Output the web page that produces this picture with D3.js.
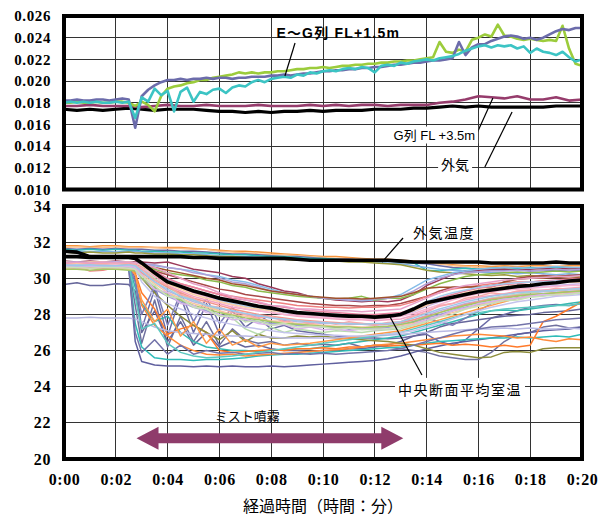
<!doctype html>
<html lang="ja">
<head>
<meta charset="utf-8">
<title>ミスト噴霧時の温湿度</title>
<style>
  body { margin: 0; background: #fff; }
  svg text { font-family: "Liberation Sans", "Noto Sans CJK JP", sans-serif; fill: #000; }
</style>
</head>
<body>
<svg id="chart" width="609" height="520"></svg>
<script src="https://d3js.org/d3.v7.min.js"></script>
<script>
// ---- ticks ----
var timeTicks = [0, 2, 4, 6, 8, 10, 12, 14, 16, 18, 20];
var humTicks = [0.010, 0.012, 0.014, 0.016, 0.018, 0.020, 0.022, 0.024, 0.026];
var tempTicks = [20, 22, 24, 26, 28, 30, 32, 34];

// ---- upper panel: absolute humidity ----
// E~G lines sampled every 15 s, outside air and G FL+3.5m every 30 s
var humTimeFine = d3.range(0, 20.001, 0.25);
var humTime = d3.range(0, 20.001, 0.5);

var humSlate = [0.0182,0.0182,0.0183,0.0182,0.0182,0.0183,0.0183,0.0182,0.0183,0.0184,0.0183,
  0.0157,0.0186,0.0192,0.0196,0.0199,0.0201,0.0201,0.0202,0.0201,0.0202,0.0202,0.0203,0.0202,0.0203,0.0203,
  0.0202,0.0203,0.0203,0.0204,0.0204,0.0204,0.0205,0.0205,0.0206,0.0205,0.0206,0.0207,0.0207,0.0208,0.0209,
  0.0209,0.0210,0.0210,0.0211,0.0211,0.0212,0.0212,0.0213,0.0213,0.0214,0.0215,0.0215,0.0216,0.0217,0.0217,
  0.0218,0.0219,0.0219,0.0220,0.0221,0.0236,0.0224,0.0231,0.0234,0.0234,0.0237,0.0239,0.0241,0.0242,0.0241,
  0.0239,0.0240,0.0238,0.0240,0.0243,0.0246,0.0248,0.0247,0.0249,0.0249];
var humGreen = [0.0180,0.0180,0.0181,0.0180,0.0180,0.0181,0.0180,0.0180,0.0181,0.0181,0.0180,
  0.0177,0.0181,0.0178,0.0172,0.0186,0.0193,0.0195,0.0196,0.0198,0.0199,0.0201,0.0201,0.0203,0.0204,0.0205,
  0.0206,0.0208,0.0207,0.0208,0.0207,0.0208,0.0208,0.0209,0.0209,0.0210,0.0211,0.0211,0.0212,0.0212,0.0213,
  0.0212,0.0213,0.0214,0.0214,0.0215,0.0215,0.0216,0.0216,0.0217,0.0217,0.0218,0.0218,0.0219,0.0219,0.0220,
  0.0221,0.0222,0.0236,0.0227,0.0226,0.0229,0.0227,0.0238,0.0240,0.0243,0.0241,0.0252,0.0242,0.0241,0.0239,
  0.0238,0.0239,0.0238,0.0237,0.0238,0.0237,0.0251,0.0230,0.0216,0.0214];
var humCyan = [0.0180,0.0181,0.0180,0.0181,0.0180,0.0181,0.0180,0.0180,0.0181,0.0180,0.0181,
  0.0166,0.0185,0.0181,0.0193,0.0187,0.0191,0.0172,0.0190,0.0194,0.0181,0.0190,0.0188,0.0192,0.0193,0.0189,
  0.0194,0.0196,0.0195,0.0199,0.0201,0.0199,0.0202,0.0203,0.0204,0.0203,0.0206,0.0205,0.0208,0.0207,0.0209,
  0.0210,0.0209,0.0211,0.0212,0.0211,0.0213,0.0212,0.0208,0.0214,0.0215,0.0214,0.0217,0.0216,0.0218,0.0219,
  0.0220,0.0219,0.0221,0.0222,0.0223,0.0225,0.0228,0.0230,0.0232,0.0233,0.0231,0.0233,0.0232,0.0233,0.0230,
  0.0232,0.0226,0.0230,0.0227,0.0226,0.0224,0.0227,0.0222,0.0218,0.0220];
var humOutside = [0.0174,0.0173,0.0174,0.0173,0.0174,0.0175,0.0174,0.0173,0.0174,0.0174,0.0174,0.0173,
  0.0172,0.0172,0.0171,0.0172,0.0171,0.0172,0.0172,0.0173,0.0172,0.0173,0.0173,0.0173,0.0174,0.0174,0.0174,
  0.0175,0.0175,0.0176,0.0177,0.0176,0.0177,0.0176,0.0176,0.0176,0.0176,0.0176,0.0177,0.0177,0.0177];
var humG35 = [0.0177,0.0177,0.0178,0.0177,0.0177,0.0177,0.0176,0.0177,0.0178,0.0177,0.0177,0.0178,
  0.0177,0.0177,0.0177,0.0178,0.0177,0.0177,0.0177,0.0178,0.0177,0.0178,0.0177,0.0178,0.0178,0.0177,0.0178,
  0.0178,0.0178,0.0180,0.0181,0.0183,0.0186,0.0185,0.0184,0.0186,0.0183,0.0183,0.0185,0.0182,0.0183];

// ---- lower panel: temperature ----
var minutes = [0,0.5,1,1.5,2,2.5,2.75,3,3.5,4,4.5,5,5.5,6,6.5,7,7.5,8,8.5,9,9.5,10,10.5,11,11.5,12,
  12.5,13,13.5,14,14.5,15,15.5,16,16.5,17,17.5,18,18.5,19,19.5,20];

var tempOutside = [31.5,31.45,31.2,31.2,31.2,31.2,31.2,31.2,31.2,31.2,31.2,31.15,31.15,31.1,31.1,31.1,31.1,
  31.1,31.1,31.05,31.0,31.0,31.0,31.0,31.0,31.0,31.0,30.95,30.9,30.9,30.9,30.9,30.9,30.9,30.85,30.85,30.85,
  30.85,30.85,30.9,30.85,30.85];
var tempMean = [31.2,31.2,31.15,31.15,31.15,31.15,31.1,30.85,30.3,29.8,29.55,29.3,29.1,28.9,28.75,28.6,28.45,
  28.35,28.2,28.1,28.05,28.0,27.95,27.9,27.9,27.85,27.9,28.0,28.3,28.65,28.8,28.95,29.1,29.25,29.35,29.45,
  29.55,29.6,29.7,29.75,29.85,29.9];

// points near the outside air level
var upperRooms = [
  [31.8,31.8,31.75,31.8,31.8,31.75,31.75,31.75,31.7,31.7,31.7,31.65,31.6,31.55,31.5,31.5,31.45,31.4,31.35,31.3,
   31.25,31.2,31.2,31.15,31.1,31.05,31.05,31.0,30.95,30.9,30.8,30.75,30.7,30.7,30.65,30.7,30.65,30.7,30.7,30.65,30.7,30.7],
  [31.7,31.75,31.7,31.7,31.75,31.7,31.7,31.7,31.7,31.65,31.65,31.6,31.6,31.5,31.45,31.4,31.35,31.3,31.3,31.25,
   31.2,31.15,31.1,31.1,31.05,31.0,31.0,30.95,30.9,30.85,30.8,30.7,30.65,30.6,30.6,30.55,30.6,30.55,30.5,30.55,30.5,30.5],
  [31.65,31.6,31.65,31.6,31.65,31.6,31.6,31.6,31.55,31.55,31.5,31.5,31.45,31.4,31.35,31.35,31.3,31.25,31.2,31.2,
   31.15,31.1,31.05,31.05,31.0,31.0,30.95,30.9,30.85,30.8,30.7,30.6,30.55,30.5,30.45,30.45,30.5,30.4,30.45,30.4,30.45,30.4],
  [31.6,31.55,31.6,31.55,31.6,31.55,31.55,31.5,31.5,31.45,31.45,31.4,31.4,31.35,31.3,31.3,31.25,31.2,31.2,31.15,
   31.1,31.1,31.05,31.0,31.0,30.95,30.95,30.9,30.85,30.45,30.4,30.5,30.55,30.5,30.55,30.6,30.55,30.6,30.55,30.6,30.6,30.55],
  [31.5,31.5,31.45,31.5,31.45,31.5,31.5,31.45,31.4,31.4,31.35,31.35,31.3,31.25,31.2,31.2,31.15,31.1,31.1,31.05,
   31.0,31.0,30.95,30.95,30.9,30.9,30.85,30.8,30.7,30.6,30.5,30.45,30.4,30.35,30.3,30.3,30.25,30.3,30.25,30.2,30.25,30.2],
  [31.45,31.4,31.45,31.4,31.4,31.45,31.4,31.4,31.35,31.35,31.3,31.3,31.25,31.2,31.2,31.15,31.1,31.1,31.05,31.0,
   31.0,30.95,30.95,30.9,30.9,30.85,30.8,30.75,30.6,30.45,30.35,30.3,30.25,30.2,30.15,30.2,30.1,30.15,30.1,30.1,30.15,30.1]
];
// points that cooled late and recovered early
var slowRooms = [
  [30.95,30.9,30.95,30.9,30.95,30.9,30.9,30.9,30.85,30.9,30.7,30.5,30.4,30.3,30.1,30.0,29.7,29.5,29.3,29.2,
   29.0,28.9,28.8,28.75,28.7,28.75,28.7,28.8,29.1,29.6,29.9,30.2,30.4,30.45,30.5,30.5,30.45,30.5,30.55,30.5,30.55,30.55],
  [30.85,30.9,30.85,30.85,30.9,30.85,30.85,30.8,30.7,30.6,30.5,30.4,30.2,30.1,29.9,29.8,29.6,29.4,29.2,29.1,
   29.0,28.9,28.85,28.8,28.75,28.8,28.9,29.1,29.5,29.9,30.1,30.3,30.4,30.5,30.55,30.6,30.6,30.55,30.6,30.65,30.6,30.6],
  [30.8,30.8,30.75,30.8,30.8,30.75,30.75,30.7,30.5,30.3,30.2,30.1,29.9,29.8,29.6,29.5,29.3,29.2,29.1,29.0,
   28.95,28.9,28.85,28.9,29.0,28.8,28.9,28.9,29.1,29.4,29.7,29.9,30.1,30.2,30.25,30.3,30.35,30.3,30.35,30.4,30.35,30.4],
  [30.75,30.7,30.75,30.7,30.7,30.75,30.7,30.6,30.4,30.2,30.0,29.8,29.6,29.4,29.3,29.1,29.0,28.9,28.8,28.7,
   28.6,28.55,28.5,28.5,28.45,28.5,28.5,28.6,28.8,29.0,29.3,29.5,29.55,29.5,29.6,29.8,30.0,30.1,30.15,30.1,30.15,30.2],
  [30.6,30.65,30.4,30.45,30.6,30.65,30.6,30.5,30.2,29.9,29.7,29.5,29.3,29.1,29.0,28.9,28.8,28.7,28.6,28.5,
   28.45,28.4,28.4,28.35,28.4,28.4,28.45,28.5,28.7,29.0,29.2,29.4,29.5,29.6,29.7,29.75,29.8,29.8,29.85,29.8,29.85,29.85],
  [30.9,30.9,30.85,30.9,30.9,30.85,30.85,30.8,30.75,30.6,30.5,30.3,30.2,30.0,29.8,29.7,29.5,29.3,29.2,29.1,
   29.0,28.9,28.85,28.8,28.8,28.85,28.9,29.0,29.3,29.7,30.0,30.2,30.3,30.35,30.4,30.4,30.45,30.4,30.45,30.5,30.45,30.5],
  [30.8,30.85,30.8,30.85,30.8,30.85,30.8,30.75,30.6,30.45,30.3,30.15,30.0,29.9,29.7,29.6,29.45,29.3,29.2,29.1,
   29.0,28.95,28.9,28.9,28.85,28.9,28.95,29.0,29.2,29.45,29.5,29.5,29.5,29.55,29.5,29.8,29.95,30.0,30.0,30.05,30.0,30.05]
];
// main body of the section
var bandRooms = [
  [30.8,30.75,30.8,30.75,30.8,30.8,30.75,30.6,30.1,29.6,29.3,29.0,28.8,28.6,28.4,28.3,28.2,28.1,28.0,27.9,
   27.85,27.8,27.75,27.7,27.7,27.65,27.7,27.75,27.95,28.2,28.45,28.6,28.8,28.95,29.05,29.15,29.25,29.3,29.35,29.4,29.45,29.5],
  [30.7,30.7,30.65,30.7,30.7,30.65,30.6,30.3,29.8,29.3,29.0,28.7,28.5,28.3,28.2,28.0,27.9,27.8,27.7,27.6,
   27.55,27.5,27.5,27.45,27.45,27.4,27.45,27.5,27.7,27.95,28.2,28.4,28.6,28.75,28.9,29.0,29.1,29.2,29.25,29.3,29.35,29.4],
  [30.75,30.7,30.75,30.7,30.75,30.7,30.7,30.5,30.0,29.5,29.1,28.8,28.5,28.2,27.8,27.2,26.9,27.3,27.0,27.2,
   27.1,27.0,27.1,27.05,27.0,27.1,27.15,27.2,27.4,27.6,27.9,28.2,28.5,28.7,28.9,29.0,29.1,29.2,29.3,29.35,29.4,29.45],
  [30.65,30.6,30.65,30.6,30.6,30.65,30.5,30.0,29.4,29.0,28.7,28.4,28.2,28.0,27.85,27.7,27.6,27.5,27.45,27.4,
   27.35,27.3,27.3,27.25,27.2,27.25,27.3,27.4,27.55,27.8,28.0,28.2,28.4,28.55,28.7,28.8,28.9,29.0,29.05,29.1,29.15,29.2],
  [30.85,30.8,30.85,30.8,30.85,30.8,30.8,30.7,30.4,30.0,29.7,29.5,29.3,29.1,28.9,28.8,28.65,28.5,28.4,28.3,
   28.2,28.15,28.1,28.05,28.0,28.0,28.05,28.1,28.3,28.6,28.9,29.1,29.3,29.45,29.55,29.65,29.7,29.8,29.85,29.9,29.95,30.0],
  [30.55,30.5,30.55,30.5,30.55,30.5,30.45,30.2,29.7,29.2,28.9,28.6,28.4,28.2,28.0,27.9,27.75,27.65,27.6,27.5,
   27.45,27.4,27.35,27.35,27.3,27.3,27.35,27.4,27.5,27.7,27.9,28.1,28.3,28.5,28.65,28.8,28.9,29.0,29.1,29.15,29.2,29.25],
  [30.9,30.85,30.9,30.85,30.9,30.9,30.85,30.7,30.3,29.9,29.5,29.2,29.0,28.8,28.6,28.45,28.3,28.2,28.1,28.0,
   27.95,27.9,27.85,27.85,27.8,27.8,27.85,27.95,28.15,28.45,28.7,28.9,29.05,29.2,29.3,29.4,29.45,29.5,29.55,29.6,29.65,29.7],
  [30.7,30.75,30.7,30.75,30.7,30.7,30.65,30.5,30.2,29.9,29.6,29.3,29.05,28.8,28.6,28.45,28.35,28.25,28.15,28.1,
   28.05,28.0,27.95,27.9,27.9,27.85,27.9,28.0,28.3,28.7,29.0,29.2,29.35,29.5,29.6,29.7,29.75,29.8,29.8,29.85,29.85,29.9],
  [30.6,30.55,30.6,30.55,30.6,30.55,30.5,30.3,29.9,29.5,29.2,28.9,28.7,28.5,28.3,28.15,28.0,27.9,27.8,27.7,
   27.65,27.6,27.55,27.5,27.5,27.45,27.5,27.55,27.7,27.9,28.1,28.35,28.55,28.7,28.85,28.95,29.05,29.1,29.15,29.2,29.25,29.3],
  [30.5,30.5,30.45,30.5,30.5,30.45,30.4,30.0,29.5,29.1,28.8,28.5,28.3,28.1,27.95,27.8,27.7,27.6,27.5,27.45,
   27.4,27.35,27.3,27.3,27.25,27.3,27.35,27.45,27.6,27.85,28.1,28.3,28.5,28.65,28.8,28.9,29.0,29.1,29.15,29.2,29.25,29.3],
  [30.65,30.6,30.65,30.65,30.6,30.65,30.5,29.8,29.0,28.6,28.3,28.0,27.8,27.6,27.45,27.3,27.2,27.1,27.0,26.95,
   26.9,26.85,26.85,26.8,26.8,26.85,26.9,27.0,27.1,27.3,27.5,27.75,28.0,28.2,28.4,28.55,28.7,28.8,28.9,29.0,29.05,29.1],
  [30.75,30.7,30.75,30.7,30.75,30.7,30.7,30.55,30.2,29.8,29.5,29.2,29.0,28.7,28.5,28.3,28.2,28.1,28.0,27.95,
   27.9,27.85,27.8,27.8,27.75,27.75,27.8,27.9,28.05,28.3,28.55,28.8,29.0,29.15,29.25,29.35,29.4,29.45,29.5,29.55,29.6,29.6],
  [30.8,30.85,30.8,30.8,30.85,30.8,30.75,30.5,29.9,29.6,29.1,28.9,28.5,28.4,28.1,28.0,27.8,27.9,27.6,27.7,
   27.5,27.6,27.45,27.6,27.5,27.4,27.55,27.6,27.9,28.1,28.5,28.6,28.9,29.0,29.2,29.1,29.3,29.35,29.3,29.45,29.4,29.5],
  [30.7,30.65,30.7,30.7,30.65,30.7,30.6,30.2,29.4,29.2,28.6,28.5,28.1,28.0,27.7,27.75,27.5,27.4,27.45,27.2,
   27.3,27.15,27.2,27.1,27.2,27.15,27.2,27.3,27.45,27.7,27.9,28.2,28.35,28.6,28.7,28.85,28.9,29.0,29.1,29.05,29.15,29.2],
  [30.6,30.6,30.55,30.6,30.6,30.55,30.5,30.1,29.6,29.0,28.9,28.4,28.3,27.9,27.9,27.6,27.65,27.4,27.5,27.3,
   27.35,27.3,27.2,27.25,27.15,27.2,27.2,27.3,27.4,27.6,27.85,28.0,28.3,28.45,28.6,28.75,28.8,28.95,29.0,29.1,29.1,29.2],
  [30.9,30.85,30.9,30.9,30.85,30.9,30.85,30.7,30.2,29.7,29.4,29.1,28.9,28.7,28.55,28.4,28.3,28.2,28.15,28.05,
   28.0,27.95,27.95,27.9,27.85,27.9,27.9,28.0,28.2,28.5,28.8,29.0,29.2,29.35,29.45,29.55,29.6,29.65,29.7,29.75,29.8,29.8],
  [30.75,30.7,30.75,30.7,30.7,30.75,30.7,30.4,29.8,29.4,29.0,28.8,28.5,28.35,28.2,28.05,27.95,27.8,27.75,27.65,
   27.6,27.55,27.5,27.5,27.45,27.5,27.5,27.6,27.8,28.05,28.3,28.5,28.7,28.85,29.0,29.1,29.2,29.25,29.3,29.35,29.4,29.45],
  [30.85,30.9,30.85,30.9,30.85,30.9,30.85,30.8,30.6,30.3,30.0,29.7,29.5,29.2,29.0,28.8,28.7,28.5,28.45,28.3,
   28.3,28.25,28.2,28.2,28.15,28.2,28.25,28.3,28.6,28.9,29.2,29.45,29.6,29.7,29.8,29.9,29.95,30.0,30.05,30.1,30.1,30.15]
];
// points hit directly by the mist
var mistRooms = [
  [30.9,30.85,30.9,30.85,30.9,30.85,30.0,27.2,29.4,26.8,29.0,27.0,28.6,26.9,28.2,27.3,27.8,27.2,27.4,27.1,
   27.0,26.9,26.8,26.75,26.7,26.7,26.65,26.7,26.8,26.9,26.5,26.3,26.6,27.2,27.8,28.0,28.2,28.4,28.5,28.55,28.5,28.6],
  [30.7,30.7,30.65,30.7,30.7,30.65,28.5,26.4,28.8,26.2,27.9,26.5,27.6,26.3,27.2,26.6,26.4,26.5,26.3,26.4,
   26.3,26.35,26.3,26.4,26.2,26.3,26.2,26.1,26.0,25.9,25.7,25.6,25.5,25.5,25.9,26.5,26.9,27.0,27.3,27.4,27.25,27.3],
  [29.65,29.75,29.6,29.6,29.7,29.65,29.3,27.0,28.2,26.5,27.6,26.3,27.0,26.2,26.5,26.2,26.3,26.1,26.0,26.0,
   25.95,26.0,26.0,26.1,26.1,26.2,26.3,26.5,26.8,27.0,27.3,27.5,27.6,27.7,27.8,27.9,27.95,28.0,28.1,28.15,28.2,28.3],
  [30.55,30.6,30.55,30.6,30.55,30.6,26.5,25.4,25.2,25.15,25.15,25.1,25.15,25.1,25.15,25.1,25.1,25.15,25.1,25.15,
   25.2,25.25,25.3,25.35,25.4,25.45,25.55,25.7,25.9,26.1,26.25,26.4,26.5,26.6,26.7,26.8,26.9,27.0,27.1,27.15,27.2,27.3],
  [30.8,30.8,30.75,30.8,30.8,30.75,27.5,26.2,25.6,25.5,25.5,25.45,25.5,25.5,25.55,25.6,25.7,25.75,25.8,25.8,
   25.85,25.9,25.95,26.0,26.05,26.1,26.15,26.2,26.3,26.4,26.5,26.55,26.6,26.65,26.7,26.7,26.75,26.7,26.75,26.8,26.75,26.9],
  [30.7,30.7,30.7,30.65,30.7,30.7,29.5,28.6,27.6,27.9,27.0,26.5,26.2,26.1,26.0,26.0,25.95,26.0,26.05,26.1,
   26.1,26.2,26.3,26.4,26.5,26.6,26.7,26.8,27.0,27.2,27.4,27.6,27.8,28.0,28.2,28.25,28.2,28.3,28.4,28.5,28.6,28.7],
  [30.75,30.7,30.75,30.75,30.7,30.75,30.3,29.2,28.3,26.9,27.2,27.4,27.0,26.0,25.9,25.95,26.0,26.05,26.0,26.1,
   26.1,26.15,26.1,26.2,26.2,26.3,26.25,26.3,26.3,26.35,26.4,26.3,26.35,26.3,26.2,26.3,26.2,26.3,27.6,27.9,28.3,28.7],
  [30.6,30.6,30.55,30.6,30.6,30.55,30.2,28.5,27.4,26.8,26.3,26.0,25.8,25.75,25.8,25.7,25.75,25.8,25.85,25.9,
   25.95,26.0,26.05,26.1,26.2,26.3,26.35,26.4,26.5,26.6,26.7,26.8,26.85,26.9,26.85,26.8,26.7,26.75,26.6,26.5,26.65,26.6],
  [30.8,30.75,30.8,30.8,30.75,30.8,30.6,30.0,29.2,28.5,27.9,27.4,27.0,26.6,27.1,26.5,26.9,26.7,26.7,26.8,
   26.75,26.8,26.7,26.65,26.6,26.55,26.5,26.4,26.3,26.1,25.9,25.8,25.7,25.6,25.65,25.9,25.95,25.9,26.1,26.15,26.15,26.15],
  [27.8,27.8,27.85,27.8,27.8,27.8,27.75,27.6,27.3,27.1,27.0,26.95,26.9,26.85,26.8,26.8,26.75,26.75,26.7,26.7,
   26.7,26.7,26.7,26.75,26.75,26.8,26.85,26.9,26.95,27.0,27.05,27.1,27.15,27.2,27.2,27.25,27.2,27.25,27.2,27.2,27.25,27.2],
  [30.65,30.6,30.65,30.6,30.65,30.6,27.0,25.9,26.6,25.8,26.3,25.8,26.0,25.85,25.9,25.8,25.85,25.9,25.8,25.85,
   25.8,25.85,25.8,25.85,25.9,25.95,26.0,26.1,26.3,26.5,26.7,26.9,27.1,27.2,27.3,27.35,27.4,27.5,27.6,27.7,27.75,27.8],
  [30.8,30.8,30.75,30.8,30.8,30.75,29.8,28.0,29.6,27.4,29.2,27.6,28.9,27.5,28.4,27.6,28.0,27.5,27.7,27.4,
   27.5,27.3,27.3,27.2,27.25,27.2,27.3,27.4,27.6,27.8,27.6,27.4,27.8,28.2,28.6,28.8,28.9,29.0,29.1,29.1,29.2,29.2],
  [30.7,30.65,30.7,30.7,30.65,30.7,30.2,28.8,27.6,28.3,26.8,27.6,26.4,27.2,26.3,26.6,26.2,26.4,26.3,26.35,
   26.4,26.5,26.6,26.7,26.8,26.9,27.0,27.1,27.3,27.5,27.7,27.9,28.1,28.3,28.5,28.7,28.9,29.0,29.1,29.2,29.25,29.3],
  [30.85,30.8,30.85,30.8,30.85,30.8,29.0,27.2,27.5,26.4,25.9,25.7,25.6,25.65,25.7,25.8,25.9,26.0,26.1,26.2,
   26.3,26.4,26.5,26.6,26.7,26.8,26.9,27.0,27.2,27.4,27.6,27.8,28.0,28.1,28.2,28.3,28.35,28.4,28.45,28.5,28.5,28.6]
];

// mist spraying period (minutes) and where its arrow sits on the temperature axis
var mistStart = 2.8, mistEnd = 13.1, mistLevel = 21.15;

// ---- colours ----
var humColors = { slate: "#6c6cab", green: "#9ccc3c", cyan: "#3cc4c4", g35: "#963c6c", out: "#000" };
var upperColors = ["#f7943c", "#f9c08c", "#6b6ba6", "#2fbcb8", "#7fb0e2", "#9a9a3c"];
var slowColors = ["#9b3a5a", "#86bde8", "#8cbc4c", "#a84848", "#ee8080", "#b0a0d8", "#a0522d"];
var bandColors = ["#f4a2c4", "#b4b4e6", "#b8dcae", "#a0a0d6", "#e8829f", "#f7c59f",
  "#cbb5e8", "#a6cdee", "#f3958a", "#a2c866", "#c4c4ec", "#f7b6d2",
  "#f9a8a8", "#d8b4e8", "#c8e0b8", "#fbd0a8", "#9ec8e8", "#e6a0c8"];
var mistColors = ["#6b6ba6", "#70709e", "#66669a", "#5f5f9e", "#2fbcb8", "#36b8b0",
  "#ff7a2a", "#ff8a3a", "#8c8c3a", "#b9b9e3", "#7474aa", "#7c7cb8", "#ff9a4a", "#5cc8c0"];

// ---- layout ----
var svg = d3.select("#chart");
var x = d3.scaleLinear().domain([0, 20]).range([64, 582]);
var yTop = d3.scaleLinear().domain([0.010, 0.026]).range([189.5, 16]);
var yBot = d3.scaleLinear().domain([20, 34]).range([459, 206]);
var numFont = '"Liberation Serif", "Times New Roman", serif';
var jpFont = '"Noto Sans CJK JP", sans-serif';

function panelGrid(yScale, ticks) {
  var g = svg.append("g").attr("class", "grid");
  var y0 = yScale.range()[0], y1 = yScale.range()[1];
  g.selectAll("line.v").data(timeTicks).enter().append("line")
    .attr("x1", function(d) { return x(d); }).attr("x2", function(d) { return x(d); })
    .attr("y1", y0).attr("y2", y1);
  g.selectAll("line.h").data(ticks).enter().append("line")
    .attr("x1", x(0)).attr("x2", x(20))
    .attr("y1", function(d) { return yScale(d); }).attr("y2", function(d) { return yScale(d); });
  g.selectAll("line").attr("stroke", "#333").attr("stroke-width", 1).attr("shape-rendering", "crispEdges");
}

function frame(yScale) {
  svg.append("rect")
    .attr("x", x(0)).attr("y", yScale.range()[1])
    .attr("width", x(20) - x(0)).attr("height", yScale.range()[0] - yScale.range()[1])
    .attr("fill", "none").attr("stroke", "#000").attr("stroke-width", 4);
}

function drawLine(times, values, yScale, color, width) {
  var line = d3.line().x(function(d, i) { return x(times[i]); }).y(function(d) { return yScale(d); });
  svg.append("path").datum(values)
    .attr("d", line).attr("fill", "none")
    .attr("stroke", color).attr("stroke-width", width)
    .attr("stroke-linejoin", "round");
}

function leader(pts, ys) {
  svg.append("line")
    .attr("x1", x(pts[0])).attr("y1", ys(pts[1]))
    .attr("x2", x(pts[2])).attr("y2", ys(pts[3]))
    .attr("stroke", "#000").attr("stroke-width", 1.2);
}

function label(text, t, v, yScale, opts) {
  var txt = svg.append("text")
    .attr("x", x(t)).attr("y", yScale(v))
    .attr("dy", "0.35em")
    .attr("text-anchor", opts.anchor || "middle")
    .style("font-size", opts.size + "px")
    .style("font-weight", opts.bold ? "bold" : "normal")
    .style("letter-spacing", (opts.spacing || 0) + "px")
    .text(text);
  if (opts.family) txt.style("font-family", opts.family);
  if (opts.box) {
    var b = txt.node().getBBox();
    svg.insert("rect", function() { return txt.node(); })
      .attr("x", b.x - 3).attr("y", b.y - 1)
      .attr("width", b.width + 6).attr("height", b.height + 2)
      .attr("fill", "#fff");
  }
  return txt;
}

function styleNums(sel, size) {
  sel.selectAll("text")
    .style("font-family", numFont).style("font-weight", "bold")
    .style("font-size", size + "px").style("letter-spacing", "0.6px")
    .attr("fill", "#000");
}

// ---- upper panel ----
panelGrid(yTop, humTicks);
drawLine(humTime, humOutside, yTop, humColors.out, 3.2);
drawLine(humTime, humG35, yTop, humColors.g35, 2.6);
drawLine(humTimeFine, humGreen, yTop, humColors.green, 2.6);
drawLine(humTimeFine, humSlate, yTop, humColors.slate, 2.6);
drawLine(humTimeFine, humCyan, yTop, humColors.cyan, 2.6);

svg.append("g")
  .attr("transform", "translate(" + x(0) + ",0)")
  .call(d3.axisLeft(yTop).tickValues(humTicks).tickFormat(d3.format(".3f")).tickSize(0).tickPadding(13))
  .call(function(g) { g.select(".domain").remove(); })
  .call(styleNums, 15);

leader([8.92, 0.02351, 8.53, 0.02047], yTop);
label("E～G列 FL+1.5m", 8.2, 0.02443, yTop, { anchor: "start", size: 14, bold: true, spacing: 1.2 });
leader([15.95, 0.01521, 16.56, 0.01844], yTop);
label("G列 FL +3.5m", 14.3, 0.01503, yTop, { size: 13, box: true });
leader([16.25, 0.01207, 17.3, 0.01715], yTop);
label("外気", 15.1, 0.01226, yTop, { size: 14, box: true, family: jpFont });

frame(yTop);

// ---- lower panel ----
panelGrid(yBot, tempTicks);
mistRooms.forEach(function(s, i) { drawLine(minutes, s, yBot, mistColors[i], 1.5); });
upperRooms.forEach(function(s, i) { drawLine(minutes, s, yBot, upperColors[i], 1.5); });
slowRooms.forEach(function(s, i) { drawLine(minutes, s, yBot, slowColors[i], 1.5); });
bandRooms.forEach(function(s, i) { drawLine(minutes, s, yBot, bandColors[i], 1.5); });
drawLine(minutes, tempOutside, yBot, "#000", 3.6);
drawLine(minutes, tempMean, yBot, "#000", 3.6);

svg.append("g")
  .attr("transform", "translate(" + x(0) + ",0)")
  .call(d3.axisLeft(yBot).tickValues(tempTicks).tickSize(0).tickPadding(13))
  .call(function(g) { g.select(".domain").remove(); })
  .call(styleNums, 16);

svg.append("g")
  .attr("transform", "translate(0," + yBot(20) + ")")
  .call(d3.axisBottom(x).tickValues(timeTicks)
    .tickFormat(function(d) { return "0:" + (d < 10 ? "0" : "") + d; })
    .tickSize(0).tickPadding(15))
  .call(function(g) { g.select(".domain").remove(); })
  .call(styleNums, 16);

// mist arrow
var ax0 = x(mistStart), ax1 = x(mistEnd), ay = yBot(mistLevel);
var headL = 22, headH = 11.5, shaftH = 5;
svg.append("path")
  .attr("d", d3.line()([
    [ax0, ay], [ax0 + headL, ay - headH], [ax0 + headL, ay - shaftH], [ax1 - headL, ay - shaftH],
    [ax1 - headL, ay - headH], [ax1, ay], [ax1 - headL, ay + headH], [ax1 - headL, ay + shaftH],
    [ax0 + headL, ay + shaftH], [ax0 + headL, ay + headH]
  ]) + "Z")
  .attr("fill", "#8f3c6b");
label("ミスト噴霧", 7.08, 22.38, yBot, { size: 13, family: jpFont });

leader([13.09, 32.23, 12.28, 30.9], yBot);
label("外気温度", 14.67, 32.48, yBot, { size: 14, spacing: 1.5, family: jpFont });
leader([13.82, 24.65, 12.59, 27.86], yBot);
label("中央断面平均室温", 15.29, 23.82, yBot, { size: 14, spacing: 1.5, box: true, family: jpFont });

frame(yBot);

svg.append("text")
  .attr("x", (x(0) + x(20)) / 2).attr("y", 506)
  .attr("dy", "0.35em")
  .attr("text-anchor", "middle")
  .style("font-size", "16px")
  .style("font-family", jpFont)
  .text("経過時間（時間：分）");
</script>
</body>
</html>
